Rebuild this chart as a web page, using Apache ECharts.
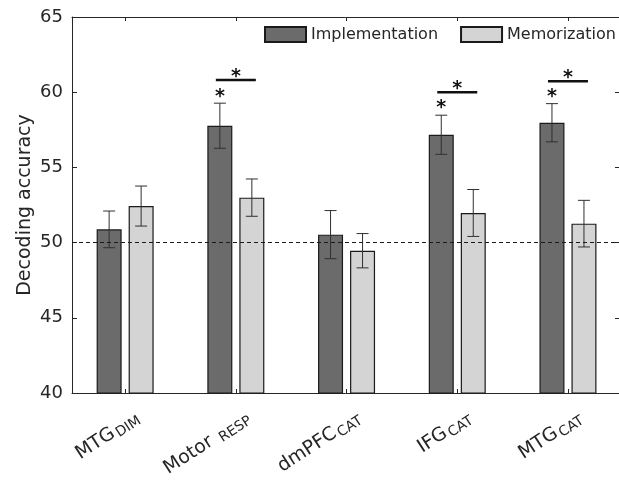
<!DOCTYPE html>
<html>
<head>
<meta charset="utf-8">
<script src="https://cdn.jsdelivr.net/npm/echarts@6/dist/echarts.min.js"></script>
<style>html,body{margin:0;padding:0;background:#fff}#c{width:619px;height:480px}</style>
</head>
<body>
<div id="c"></div>
<script>
// ---- data ----
var catMain = ['MTG', 'Motor ', 'dmPFC', 'IFG', 'MTG'];
var catSub = ['DIM', 'RESP', 'CAT', 'CAT', 'CAT'];
var catPos = [1, 2, 3, 4, 5];
var implVals = [50.88, 57.77, 50.53, 57.17, 57.97];
var implErr = [1.22, 1.50, 1.60, 1.30, 1.27];
var memVals = [52.43, 52.99, 49.46, 51.97, 51.26];
var memErr = [1.33, 1.24, 1.14, 1.56, 1.55];
var sigPos = [2, 4, 5];
var sigStarY = [59.9, 59.15, 59.88];
var sigLineY = [60.81, 59.99, 60.72];
var chanceLevel = 50;

// ---- layout constants ----
var BAR_W = 25, BAR_GAP = 7;
var OFF = (BAR_W + BAR_GAP) / 2;
var AX = '#262626';
var FONT = 'DejaVu Sans';
var X_MIN = 0.52, X_MAX = 5.47;
var LABEL_SHIFT = 0.06; // label anchor shift (axis units) to mimic MATLAB rotated-label anchoring

var chart = echarts.init(document.getElementById('c'), null, {renderer: 'canvas'});

function errRender(sign, vals, errs) {
  return function (params, api) {
    var i = params.dataIndex;
    var x = api.value(0);
    var top = api.coord([x, vals[i] + errs[i]]);
    var bot = api.coord([x, vals[i] - errs[i]]);
    var cx = top[0] + sign * OFF;
    var st = {stroke: '#303030', lineWidth: 1};
    return {type: 'group', children: [
      {type: 'line', shape: {x1: cx, y1: top[1], x2: cx, y2: bot[1]}, style: st},
      {type: 'line', shape: {x1: cx - 6, y1: top[1], x2: cx + 6, y2: top[1]}, style: st},
      {type: 'line', shape: {x1: cx - 6, y1: bot[1], x2: cx + 6, y2: bot[1]}, style: st}
    ]};
  };
}

var implData = catPos.map(function (p, i) { return [p, implVals[i]]; });
var memData = catPos.map(function (p, i) { return [p, memVals[i]]; });
var sigData = sigPos.map(function (p, i) { return [p, sigStarY[i], sigLineY[i]]; });

var option = {
  animation: false,
  backgroundColor: '#fff',
  textStyle: {fontFamily: FONT},
  grid: {left: 72, right: -1, top: 17, bottom: 87, containLabel: false, outerBoundsMode: 'none'},
  legend: {
    left: 264, top: 26, width: 400, itemWidth: 41, itemHeight: 15, itemGap: 22,
    icon: 'rect', padding: 0,
    textStyle: {fontFamily: FONT, fontSize: 16, color: AX},
    data: ['Implementation', 'Memorization']
  },
  xAxis: [{
    type: 'value', min: X_MIN, max: X_MAX, position: 'bottom',
    axisLine: {show: true, lineStyle: {color: AX, width: 1}},
    splitLine: {show: false},
    axisTick: {show: true, inside: true, length: 4, customValues: catPos, lineStyle: {color: AX}},
    axisLabel: {show: false}
  }, {
    type: 'value', min: X_MIN, max: X_MAX, position: 'top',
    axisLine: {show: true, lineStyle: {color: AX, width: 1}},
    splitLine: {show: false},
    axisTick: {show: true, inside: true, length: 4, customValues: catPos, lineStyle: {color: AX}},
    axisLabel: {show: false}
  }, {
    type: 'value', min: X_MIN - LABEL_SHIFT, max: X_MAX - LABEL_SHIFT, position: 'bottom', offset: 0,
    axisLine: {show: false}, axisTick: {show: false}, splitLine: {show: false},
    axisLabel: {
      show: true, customValues: catPos, rotate: 33, margin: 14, color: AX,
      fontFamily: FONT, verticalAlign: 'top', align: 'right',
      formatter: function (v) {
        var i = catPos.indexOf(Math.round(v));
        return '{m|' + catMain[i] + '}{s|' + catSub[i] + '}';
      },
      rich: {
        m: {fontSize: 19, fontFamily: FONT, color: AX, lineHeight: 22},
        s: {fontSize: 14, fontFamily: FONT, color: AX, lineHeight: 10, verticalAlign: 'bottom', padding: [0, 0, 0, 2]}
      }
    }
  }],
  yAxis: [{
    type: 'value', min: 40, max: 65, interval: 5, position: 'left',
    name: 'Decoding accuracy', nameLocation: 'middle', nameGap: 37, nameMoveOverlap: false,
    nameTextStyle: {fontSize: 19, color: AX, fontFamily: FONT},
    axisLine: {show: true, lineStyle: {color: AX, width: 1}},
    splitLine: {show: false},
    axisTick: {show: true, inside: true, length: 5, lineStyle: {color: AX}},
    axisLabel: {fontSize: 18, color: AX, margin: 9, fontFamily: FONT}
  }, {
    type: 'value', min: 40, max: 65, interval: 5, position: 'right',
    axisLine: {show: true, lineStyle: {color: AX, width: 1}},
    splitLine: {show: false},
    axisTick: {show: true, inside: true, length: 5, lineStyle: {color: AX}},
    axisLabel: {show: false}
  }],
  series: [{
    name: 'Implementation', type: 'bar', data: implData,
    barWidth: BAR_W, barGap: (BAR_GAP / BAR_W * 100) + '%',
    itemStyle: {color: '#6b6b6b', borderColor: '#1a1a1a', borderWidth: 1.2}
  }, {
    name: 'Memorization', type: 'bar', data: memData,
    barWidth: BAR_W, barGap: (BAR_GAP / BAR_W * 100) + '%',
    itemStyle: {color: '#d4d4d4', borderColor: '#1a1a1a', borderWidth: 1.2},
    markLine: {
      silent: true, symbol: 'none', label: {show: false}, z: 10,
      lineStyle: {type: [4, 3], color: '#1a1a1a', width: 1},
      data: [{yAxis: chanceLevel}]
    }
  }, {
    type: 'custom', name: 'implErr', data: implData, z: 5,
    renderItem: errRender(-1, implVals, implErr)
  }, {
    type: 'custom', name: 'memErr', data: memData, z: 5,
    renderItem: errRender(1, memVals, memErr)
  }, {
    type: 'custom', name: 'sig', data: sigData, z: 6,
    renderItem: function (params, api) {
      var x = api.value(0);
      var s = api.coord([x, api.value(1)]);
      var l = api.coord([x, api.value(2)]);
      var ts = {fontSize: 19, fontFamily: FONT, fontWeight: 'bold', fill: '#111', align: 'center', verticalAlign: 'middle'};
      return {type: 'group', children: [
        {type: 'text', x: s[0] - OFF, y: s[1] + 3, style: Object.assign({text: '*'}, ts)},
        {type: 'line', shape: {x1: l[0] - 20, y1: l[1], x2: l[0] + 20, y2: l[1]}, style: {stroke: '#111', lineWidth: 2.5}},
        {type: 'text', x: l[0], y: l[1] - 3, style: Object.assign({text: '*'}, ts)}
      ]};
    }
  }]
};
chart.setOption(option);
</script>
</body>
</html>
